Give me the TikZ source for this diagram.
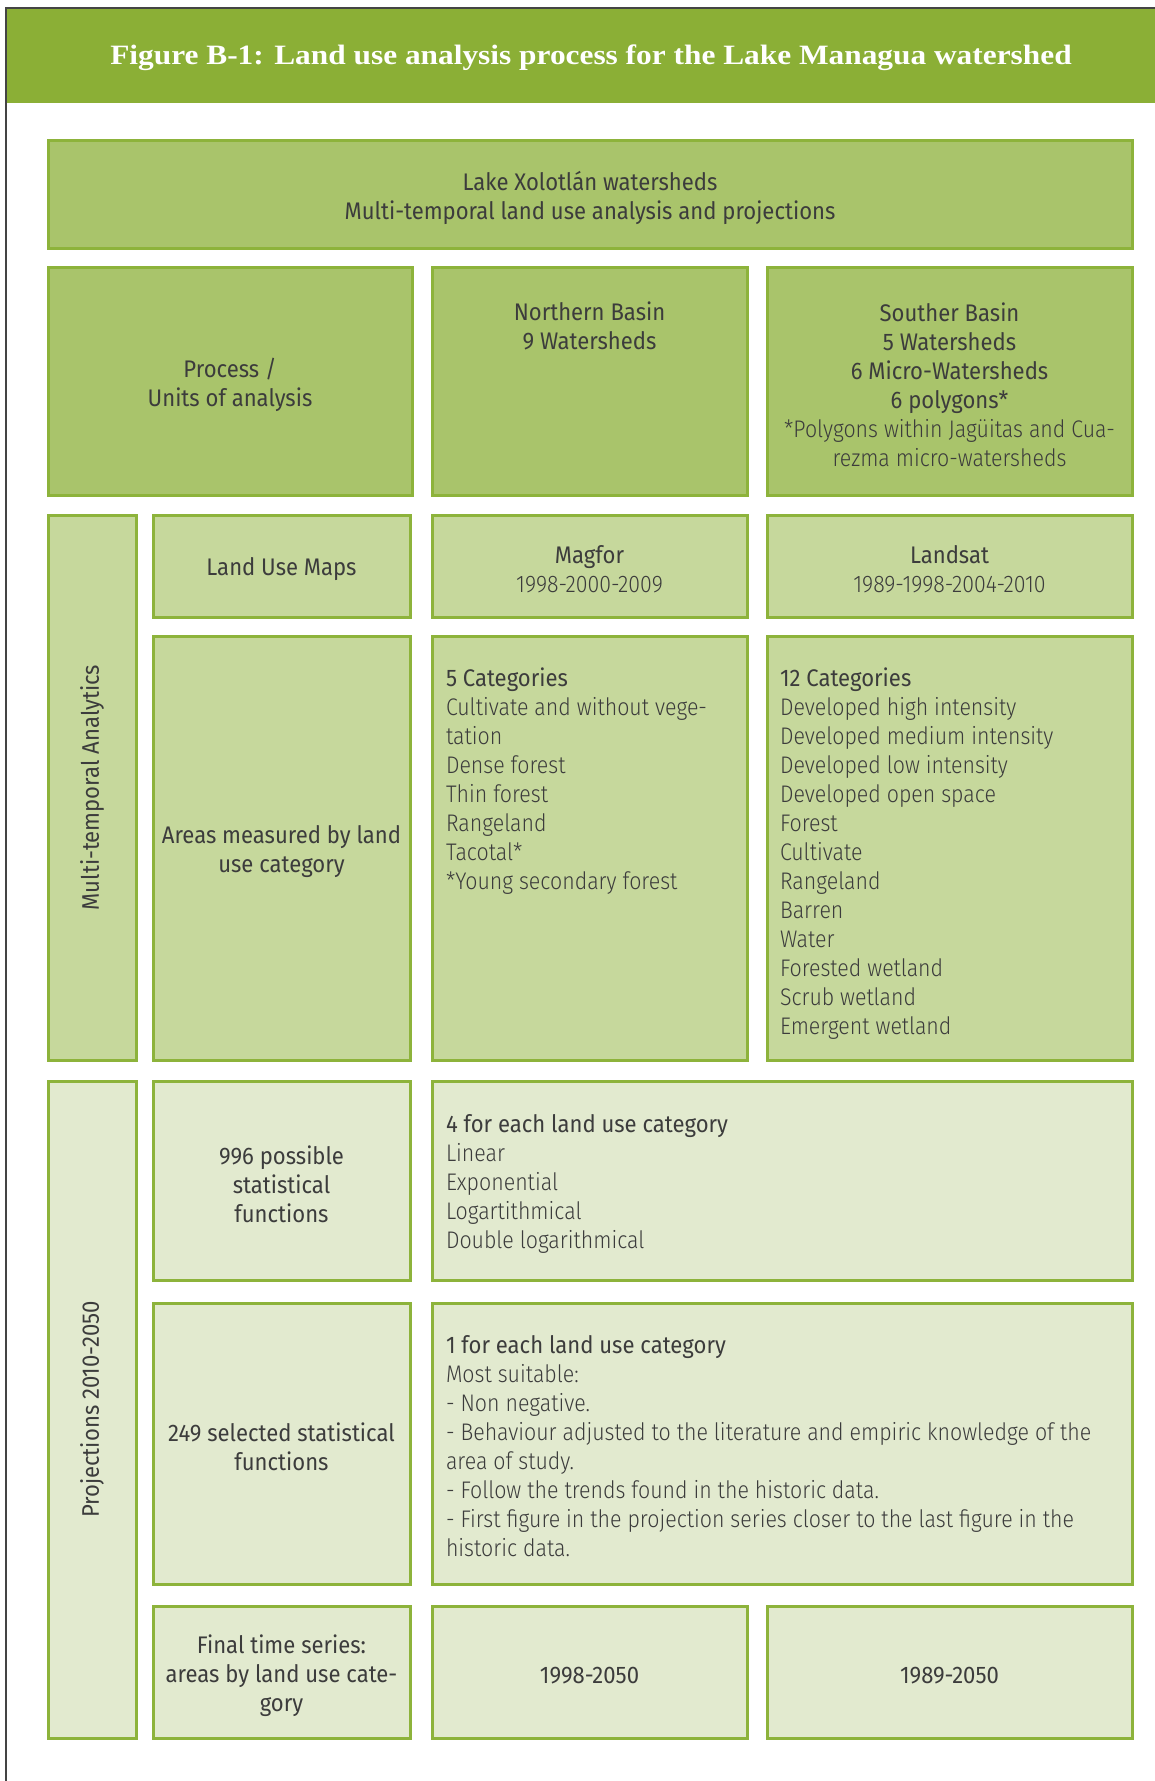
\documentclass[tikz,border=0pt]{standalone}
\usepackage{fontspec}
\setmainfont{Fira Sans}[FakeStretch=0.92]
\newfontfamily\lt{Fira Sans Light}[FakeStretch=0.89]
\newfontfamily\ttlfont{Liberation Serif}[FakeStretch=1.12]
\definecolor{hdr}{HTML}{8BAF36}
\definecolor{bord}{HTML}{8DB33B}
\definecolor{dk}{HTML}{A9C46B}
\definecolor{md}{HTML}{C6D89C}
\definecolor{lg}{HTML}{E2EACF}
\definecolor{txt}{HTML}{3C3C3C}
\definecolor{frame}{HTML}{444444}
\newcommand\fs{\fontsize{24pt}{29pt}\selectfont}
% box node, then its centred text slightly below the geometric centre
\newcommand\cell[7]{%
  \node[cellbox,#6, minimum width={#4pt-#2pt}, minimum height={#5pt-#3pt}] (#1) at ({(#2+#4)/2},{(#3+#5)/2}) {};%
  \node[tnode, align=center] (#1t) at ([yshift=-3.5pt]#1.center) {#7};}
\newcommand\emptycell[6]{%
  \node[cellbox,#6, minimum width={#4pt-#2pt}, minimum height={#5pt-#3pt}] (#1) at ({(#2+#4)/2},{(#3+#5)/2}) {};}
\tikzset{
  cellbox/.style={draw=bord, line width=3pt, inner sep=0pt, outer sep=0pt},
  dark/.style={fill=dk},
  mid/.style={fill=md},
  lite/.style={fill=lg},
  tnode/.style={inner sep=0pt, outer sep=0pt, text=txt, font=\fs},
}
\begin{document}
\begin{tikzpicture}[x=1pt,y=-1pt]
\useasboundingbox (0,0) rectangle (1155,1781);
\fill[white] (0,0) rectangle (1155,1781);
% header
\fill[hdr] (6,8) rectangle (1155,103);
\draw[frame, line width=1.2pt] (6,1781) -- (6,8) -- (1155,8);
\node[inner sep=0pt, text=white, font=\ttlfont\bfseries\fontsize{28pt}{32pt}\selectfont] (title) at (591,58) {Figure B-1: Land use analysis process for the Lake Managua watershed};

% row 1
\cell{T}{48}{140}{1132}{248}{dark}{Lake Xolotlán watersheds\\Multi-temporal land use analysis and projections}
% row 2
\cell{P}{48}{267}{412}{495}{dark}{Process /\\Units of analysis}
\emptycell{N}{432}{267}{747}{495}{dark}
\node[tnode, anchor=north, align=center] (Nt) at (589.5,301.5) {Northern Basin\\9 Watersheds};
\cell{S}{767}{267}{1132}{495}{dark}{Souther Basin\\5 Watersheds\\6 Micro-Watersheds\\6 polygons*\\{\lt *Polygons within Jagüitas and Cua-}\\{\lt rezma micro-watersheds}}
% row 3
\emptycell{MTA}{48}{515}{136}{1060}{mid}
\node[tnode, rotate=90] (MTAt) at (MTA.center) {Multi-temporal Analytics};
\cell{LUM}{153}{515}{410}{617}{mid}{Land Use Maps}
\cell{MG}{432}{515}{747}{617}{mid}{Magfor\\{\lt 1998-2000-2009}}
\cell{LS}{767}{515}{1132}{617}{mid}{Landsat\\{\lt 1989-1998-2004-2010}}
% row 4
\cell{AR}{153}{636}{410}{1060}{mid}{Areas measured by land\\use category}
\emptycell{C5}{432}{636}{747}{1060}{mid}
\node[tnode, anchor=north west, align=left] (C5t) at (446,668) {5 Categories\\{\lt Cultivate and without vege-}\\{\lt tation}\\{\lt Dense forest}\\{\lt Thin forest}\\{\lt Rangeland}\\{\lt Tacotal*}\\{\lt *Young secondary forest}};
\emptycell{C12}{767}{636}{1132}{1060}{mid}
\node[tnode, anchor=north west, align=left] (C12t) at (780,668) {12 Categories\\{\lt Developed high intensity}\\{\lt Developed medium intensity}\\{\lt Developed low intensity}\\{\lt Developed open space}\\{\lt Forest}\\{\lt Cultivate}\\{\lt Rangeland}\\{\lt Barren}\\{\lt Water}\\{\lt Forested wetland}\\{\lt Scrub wetland}\\{\lt Emergent wetland}};
% projections
\emptycell{PJ}{48}{1081}{136}{1738}{lite}
\node[tnode, rotate=90] (PJt) at (PJ.center) {Projections 2010-2050};
\cell{F996}{153}{1081}{410}{1280}{lite}{996 possible\\statistical\\functions}
\emptycell{F4}{432}{1081}{1132}{1280}{lite}
\node[tnode, anchor=west, align=left] (F4t) at (446,1183.5) {4 for each land use category\\{\lt Linear}\\{\lt Exponential}\\{\lt Logartithmical}\\{\lt Double logarithmical}};
\cell{F249}{153}{1303}{410}{1584}{lite}{249 selected statistical\\functions}
\emptycell{F1}{432}{1303}{1132}{1584}{lite}
\node[tnode, anchor=west, align=left] (F1t) at (446,1446) {1 for each land use category\\{\lt Most suitable:}\\{\lt - Non negative.}\\{\lt - Behaviour adjusted to the literature and empiric knowledge of the}\\{\lt area of study.}\\{\lt - Follow the trends found in the historic data.}\\{\lt - First figure in the projection series closer to the last figure in the}\\{\lt historic data.}};
\cell{FIN}{153}{1606}{410}{1738}{lite}{Final time series:\\areas by land use cate-\\gory}
\cell{Y1}{432}{1606}{747}{1738}{lite}{1998-2050}
\cell{Y2}{767}{1606}{1132}{1738}{lite}{1989-2050}
\end{tikzpicture}
\end{document}
